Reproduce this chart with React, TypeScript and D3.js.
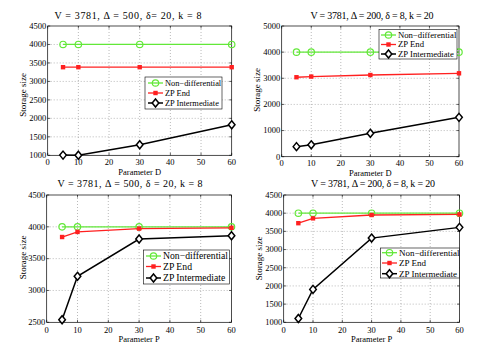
import React from 'react';
import * as d3 from 'd3';

const xValues = [5, 10, 30, 60];
const xTicks = [0, 10, 20, 30, 40, 50, 60];
const seriesNames = ['Non\u2212differential', 'ZP End', 'ZP Intermediate'];

// top left: parameter D, V=3781, delta=500
const tlNonDiff = [4000, 4000, 4000, 4000];
const tlZpEnd = [3385, 3385, 3385, 3385];
const tlZpInter = [1005, 1000, 1285, 1825];
const tlYTicks = [1000, 1500, 2000, 2500, 3000, 3500, 4000, 4500];

// top right: parameter D, V=3781, delta=200
const trNonDiff = [4000, 4000, 4000, 4000];
const trZpEnd = [3040, 3065, 3125, 3190];
const trZpInter = [385, 455, 895, 1505];
const trYTicks = [0, 1000, 2000, 3000, 4000, 5000];

// bottom left: parameter P, delta=500
const blNonDiff = [4000, 4000, 4000, 4000];
const blZpEnd = [3840, 3920, 3972, 3985];
const blZpInter = [2540, 3222, 3808, 3860];
const blYTicks = [2500, 3000, 3500, 4000, 4500];

// bottom right: parameter P, delta=200
const brNonDiff = [4000, 4000, 4000, 4000];
const brZpEnd = [3725, 3858, 3950, 3965];
const brZpInter = [1105, 1905, 3315, 3610];
const brYTicks = [1000, 1500, 2000, 2500, 3000, 3500, 4000, 4500];

const GREEN = '#62e838';
const RED = '#ff2020';
const FONT = '"Liberation Serif", "Times New Roman", serif';

const panels = [
  {
    title: 'V = 3781, \u0394 = 500, \u03b4= 20, k = 8', xLabel: 'Parameter D',
    yTicks: tlYTicks, series: [tlNonDiff, tlZpEnd, tlZpInter],
    l: 47.7, r: 231.7, t: 26, b: 155.3,
    titleX: 128, titleW: 147, titleY: 19, tickY: 9.3, xLabY: 175,
    yLab: [25.5, 95],
    leg: { x: 145, y: 77, w: 77, h: 32, rows: [83, 93, 103], fs: 8.4, lx: 148 },
  },
  {
    title: 'V = 3781, \u0394 = 200, \u03b4 = 8, k = 20', xLabel: 'Parameter D',
    yTicks: trYTicks, series: [trNonDiff, trZpEnd, trZpInter],
    l: 281.7, r: 459, t: 26, b: 156.7,
    titleX: 372, titleW: 123, titleY: 19, tickY: 9.3, xLabY: 175.5,
    yLab: [260, 90],
    leg: { x: 379, y: 29.5, w: 78, h: 29.5, rows: [35, 44.5, 54], fs: 8.7, lx: 381 },
  },
  {
    title: 'V = 3781, \u0394 = 500, \u03b4 = 20, k = 8', xLabel: 'Parameter P',
    yTicks: blYTicks, series: [blNonDiff, blZpEnd, blZpInter],
    l: 46.7, r: 231.5, t: 195, b: 322.3,
    titleX: 130, titleW: 145, titleY: 186.5, tickY: 10.5, xLabY: 342,
    yLab: [25.5, 257.5],
    leg: { x: 143.3, y: 250, w: 86, h: 34, rows: [256, 266.5, 278], fs: 9.7, lx: 146 },
  },
  {
    title: 'V = 3781, \u0394 = 200, \u03b4 = 8, k = 20', xLabel: 'Parameter P',
    yTicks: brYTicks, series: [brNonDiff, brZpEnd, brZpInter],
    l: 283.7, r: 459.5, t: 195, b: 322.3,
    titleX: 373, titleW: 124, titleY: 187, tickY: 10.5, xLabY: 342,
    yLab: [261.5, 258.5],
    leg: { x: 380.3, y: 248, w: 79, h: 30, rows: [252.7, 263, 273.7], fs: 9, lx: 382 },
  },
];

function Marker({ kind, x, y }: { kind: number; x: number; y: number }) {
  if (kind === 0) {
    return <circle cx={x} cy={y} r={3.2} fill="none" stroke={GREEN} strokeWidth={1.2} />;
  }
  if (kind === 1) {
    return <rect x={x - 2.2} y={y - 2.2} width={4.4} height={4.4} fill={RED} />;
  }
  return (
    <path
      d={`M${x},${y - 4}L${x + 3.3},${y}L${x},${y + 4}L${x - 3.3},${y}Z`}
      fill="white" stroke="black" strokeWidth={1.5}
    />
  );
}

const colors = [GREEN, RED, 'black'];
const widths = [1.3, 1.3, 1.5];

function Panel({ p }: { p: (typeof panels)[number] }) {
  const x = d3.scaleLinear().domain([0, 60]).range([p.l, p.r]);
  const yExtent = d3.extent(p.yTicks) as [number, number];
  const y = d3.scaleLinear().domain(yExtent).range([p.b, p.t]);
  const line = d3.line<number>().x((_, i) => x(xValues[i])).y((d) => y(d));
  const midX = (p.l + p.r) / 2;

  return (
    <g>
      {/* grid */}
      {xTicks.slice(1, -1).map((t) => (
        <line key={'gx' + t} x1={x(t)} x2={x(t)} y1={p.t} y2={p.b} stroke="#8c8c8c" strokeWidth={0.6} strokeDasharray="1,2" />
      ))}
      {p.yTicks.slice(1, -1).map((t) => (
        <line key={'gy' + t} x1={p.l} x2={p.r} y1={y(t)} y2={y(t)} stroke="#8c8c8c" strokeWidth={0.6} strokeDasharray="1,2" />
      ))}
      {/* ticks */}
      {xTicks.map((t) => (
        <g key={'tx' + t}>
          <line x1={x(t)} x2={x(t)} y1={p.b} y2={p.b - 2.5} stroke="black" strokeWidth={0.6} />
          <line x1={x(t)} x2={x(t)} y1={p.t} y2={p.t + 2.5} stroke="black" strokeWidth={0.6} />
          <text x={x(t)} y={p.b + p.tickY} textAnchor="middle" fontSize={8.5} fontFamily={FONT}>{t}</text>
        </g>
      ))}
      {p.yTicks.map((t) => (
        <g key={'ty' + t}>
          <line x1={p.l} x2={p.l + 2.5} y1={y(t)} y2={y(t)} stroke="black" strokeWidth={0.6} />
          <line x1={p.r} x2={p.r - 2.5} y1={y(t)} y2={y(t)} stroke="black" strokeWidth={0.6} />
          <text x={p.l - 1.5} y={y(t)} dy="0.33em" textAnchor="end" fontSize={8.5} fontFamily={FONT}>{t}</text>
        </g>
      ))}
      <rect x={p.l} y={p.t} width={p.r - p.l} height={p.b - p.t} fill="none" stroke="black" strokeWidth={0.7} />
      {/* series */}
      {p.series.map((s, k) => (
        <g key={'s' + k}>
          <path d={line(s) || ''} fill="none" stroke={colors[k]} strokeWidth={widths[k]} />
          {s.map((v, i) => (
            <Marker key={i} kind={k} x={x(xValues[i])} y={y(v)} />
          ))}
        </g>
      ))}
      {/* legend */}
      <rect x={p.leg.x} y={p.leg.y} width={p.leg.w} height={p.leg.h} fill="white" stroke="black" strokeWidth={0.6} />
      {seriesNames.map((name, k) => (
        <g key={'lg' + k}>
          <line x1={p.leg.lx} x2={p.leg.lx + 15} y1={p.leg.rows[k]} y2={p.leg.rows[k]} stroke={colors[k]} strokeWidth={widths[k]} />
          <Marker kind={k} x={p.leg.lx + 7.5} y={p.leg.rows[k]} />
          <text x={p.leg.lx + 17} y={p.leg.rows[k]} dy="0.33em" fontSize={p.leg.fs} fontFamily={FONT}>{name}</text>
        </g>
      ))}
      {/* labels */}
      <text x={p.titleX} y={p.titleY} textAnchor="middle" fontSize={10} fontFamily={FONT}
        textLength={p.titleW} lengthAdjust="spacing">{p.title}</text>
      <text x={midX} y={p.xLabY} textAnchor="middle" fontSize={8.5} fontFamily={FONT}>{p.xLabel}</text>
      <text transform={`translate(${p.yLab[0]},${p.yLab[1]}) rotate(-90)`} textAnchor="middle" fontSize={9} fontFamily={FONT}>
        Storage size
      </text>
    </g>
  );
}

export default function App() {
  return (
    <svg width={498} height={354} style={{ position: 'absolute', left: 0, top: 0, background: 'white' }}>
      <rect width={498} height={354} fill="white" />
      {panels.map((p, i) => (
        <Panel key={i} p={p} />
      ))}
    </svg>
  );
}
